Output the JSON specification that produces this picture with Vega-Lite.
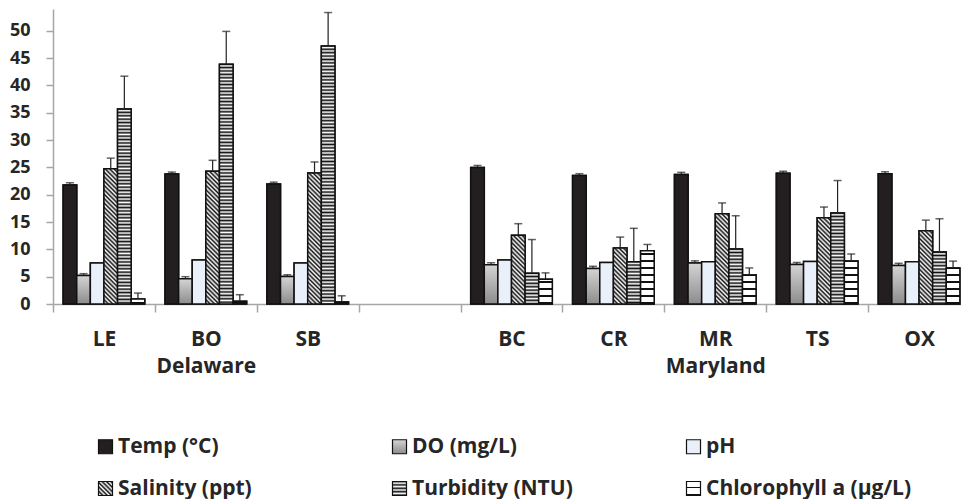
{
  "$schema": "https://vega.github.io/schema/vega-lite/v6.json",
  "autosize": {"type": "none"},
  "padding": {"left": 53, "top": 9, "right": 0, "bottom": 195},
  "width": 908,
  "height": 295,
  "background": "white",
  "config": {"font": "Open Sans", "view": {"stroke": null}},
  "params": [
    {"name": "stripeStops", "value": [
      {"offset":0,"color":"#111"},{"offset":0.005,"color":"#fff"},{"offset":0.01,"color":"#111"},{"offset":0.015,"color":"#fff"},{"offset":0.02,"color":"#111"},{"offset":0.025,"color":"#fff"},{"offset":0.03,"color":"#111"},{"offset":0.035,"color":"#fff"},{"offset":0.04,"color":"#111"},{"offset":0.045,"color":"#fff"},
      {"offset":0.05,"color":"#111"},{"offset":0.055,"color":"#fff"},{"offset":0.06,"color":"#111"},{"offset":0.065,"color":"#fff"},{"offset":0.07,"color":"#111"},{"offset":0.075,"color":"#fff"},{"offset":0.08,"color":"#111"},{"offset":0.085,"color":"#fff"},{"offset":0.09,"color":"#111"},{"offset":0.095,"color":"#fff"},
      {"offset":0.1,"color":"#111"},{"offset":0.105,"color":"#fff"},{"offset":0.11,"color":"#111"},{"offset":0.115,"color":"#fff"},{"offset":0.12,"color":"#111"},{"offset":0.125,"color":"#fff"},{"offset":0.13,"color":"#111"},{"offset":0.135,"color":"#fff"},{"offset":0.14,"color":"#111"},{"offset":0.145,"color":"#fff"},
      {"offset":0.15,"color":"#111"},{"offset":0.155,"color":"#fff"},{"offset":0.16,"color":"#111"},{"offset":0.165,"color":"#fff"},{"offset":0.17,"color":"#111"},{"offset":0.175,"color":"#fff"},{"offset":0.18,"color":"#111"},{"offset":0.185,"color":"#fff"},{"offset":0.19,"color":"#111"},{"offset":0.195,"color":"#fff"},
      {"offset":0.2,"color":"#111"},{"offset":0.205,"color":"#fff"},{"offset":0.21,"color":"#111"},{"offset":0.215,"color":"#fff"},{"offset":0.22,"color":"#111"},{"offset":0.225,"color":"#fff"},{"offset":0.23,"color":"#111"},{"offset":0.235,"color":"#fff"},{"offset":0.24,"color":"#111"},{"offset":0.245,"color":"#fff"},
      {"offset":0.25,"color":"#111"},{"offset":0.255,"color":"#fff"},{"offset":0.26,"color":"#111"},{"offset":0.265,"color":"#fff"},{"offset":0.27,"color":"#111"},{"offset":0.275,"color":"#fff"},{"offset":0.28,"color":"#111"},{"offset":0.285,"color":"#fff"},{"offset":0.29,"color":"#111"},{"offset":0.295,"color":"#fff"},
      {"offset":0.3,"color":"#111"},{"offset":0.305,"color":"#fff"},{"offset":0.31,"color":"#111"},{"offset":0.315,"color":"#fff"},{"offset":0.32,"color":"#111"},{"offset":0.325,"color":"#fff"},{"offset":0.33,"color":"#111"},{"offset":0.335,"color":"#fff"},{"offset":0.34,"color":"#111"},{"offset":0.345,"color":"#fff"},
      {"offset":0.35,"color":"#111"},{"offset":0.355,"color":"#fff"},{"offset":0.36,"color":"#111"},{"offset":0.365,"color":"#fff"},{"offset":0.37,"color":"#111"},{"offset":0.375,"color":"#fff"},{"offset":0.38,"color":"#111"},{"offset":0.385,"color":"#fff"},{"offset":0.39,"color":"#111"},{"offset":0.395,"color":"#fff"},
      {"offset":0.4,"color":"#111"},{"offset":0.405,"color":"#fff"},{"offset":0.41,"color":"#111"},{"offset":0.415,"color":"#fff"},{"offset":0.42,"color":"#111"},{"offset":0.425,"color":"#fff"},{"offset":0.43,"color":"#111"},{"offset":0.435,"color":"#fff"},{"offset":0.44,"color":"#111"},{"offset":0.445,"color":"#fff"},
      {"offset":0.45,"color":"#111"},{"offset":0.455,"color":"#fff"},{"offset":0.46,"color":"#111"},{"offset":0.465,"color":"#fff"},{"offset":0.47,"color":"#111"},{"offset":0.475,"color":"#fff"},{"offset":0.48,"color":"#111"},{"offset":0.485,"color":"#fff"},{"offset":0.49,"color":"#111"},{"offset":0.495,"color":"#fff"},
      {"offset":0.5,"color":"#111"},{"offset":0.505,"color":"#fff"},{"offset":0.51,"color":"#111"},{"offset":0.515,"color":"#fff"},{"offset":0.52,"color":"#111"},{"offset":0.525,"color":"#fff"},{"offset":0.53,"color":"#111"},{"offset":0.535,"color":"#fff"},{"offset":0.54,"color":"#111"},{"offset":0.545,"color":"#fff"},
      {"offset":0.55,"color":"#111"},{"offset":0.555,"color":"#fff"},{"offset":0.56,"color":"#111"},{"offset":0.565,"color":"#fff"},{"offset":0.57,"color":"#111"},{"offset":0.575,"color":"#fff"},{"offset":0.58,"color":"#111"},{"offset":0.585,"color":"#fff"},{"offset":0.59,"color":"#111"},{"offset":0.595,"color":"#fff"},
      {"offset":0.6,"color":"#111"},{"offset":0.605,"color":"#fff"},{"offset":0.61,"color":"#111"},{"offset":0.615,"color":"#fff"},{"offset":0.62,"color":"#111"},{"offset":0.625,"color":"#fff"},{"offset":0.63,"color":"#111"},{"offset":0.635,"color":"#fff"},{"offset":0.64,"color":"#111"},{"offset":0.645,"color":"#fff"},
      {"offset":0.65,"color":"#111"},{"offset":0.655,"color":"#fff"},{"offset":0.66,"color":"#111"},{"offset":0.665,"color":"#fff"},{"offset":0.67,"color":"#111"},{"offset":0.675,"color":"#fff"},{"offset":0.68,"color":"#111"},{"offset":0.685,"color":"#fff"},{"offset":0.69,"color":"#111"},{"offset":0.695,"color":"#fff"},
      {"offset":0.7,"color":"#111"},{"offset":0.705,"color":"#fff"},{"offset":0.71,"color":"#111"},{"offset":0.715,"color":"#fff"},{"offset":0.72,"color":"#111"},{"offset":0.725,"color":"#fff"},{"offset":0.73,"color":"#111"},{"offset":0.735,"color":"#fff"},{"offset":0.74,"color":"#111"},{"offset":0.745,"color":"#fff"},
      {"offset":0.75,"color":"#111"},{"offset":0.755,"color":"#fff"},{"offset":0.76,"color":"#111"},{"offset":0.765,"color":"#fff"},{"offset":0.77,"color":"#111"},{"offset":0.775,"color":"#fff"},{"offset":0.78,"color":"#111"},{"offset":0.785,"color":"#fff"},{"offset":0.79,"color":"#111"},{"offset":0.795,"color":"#fff"},
      {"offset":0.8,"color":"#111"},{"offset":0.805,"color":"#fff"},{"offset":0.81,"color":"#111"},{"offset":0.815,"color":"#fff"},{"offset":0.82,"color":"#111"},{"offset":0.825,"color":"#fff"},{"offset":0.83,"color":"#111"},{"offset":0.835,"color":"#fff"},{"offset":0.84,"color":"#111"},{"offset":0.845,"color":"#fff"},
      {"offset":0.85,"color":"#111"},{"offset":0.855,"color":"#fff"},{"offset":0.86,"color":"#111"},{"offset":0.865,"color":"#fff"},{"offset":0.87,"color":"#111"},{"offset":0.875,"color":"#fff"},{"offset":0.88,"color":"#111"},{"offset":0.885,"color":"#fff"},{"offset":0.89,"color":"#111"},{"offset":0.895,"color":"#fff"},
      {"offset":0.9,"color":"#111"},{"offset":0.905,"color":"#fff"},{"offset":0.91,"color":"#111"},{"offset":0.915,"color":"#fff"},{"offset":0.92,"color":"#111"},{"offset":0.925,"color":"#fff"},{"offset":0.93,"color":"#111"},{"offset":0.935,"color":"#fff"},{"offset":0.94,"color":"#111"},{"offset":0.945,"color":"#fff"},
      {"offset":0.95,"color":"#111"},{"offset":0.955,"color":"#fff"},{"offset":0.96,"color":"#111"},{"offset":0.965,"color":"#fff"},{"offset":0.97,"color":"#111"},{"offset":0.975,"color":"#fff"},{"offset":0.98,"color":"#111"},{"offset":0.985,"color":"#fff"},{"offset":0.99,"color":"#111"},{"offset":0.995,"color":"#fff"},
      {"offset":1,"color":"#111"}
    ]},
    {"name": "chlStops", "value": [
      {"offset":0,"color":"#111"},{"offset":0.025,"color":"#111"},{"offset":0.025,"color":"#fff"},{"offset":0.1,"color":"#fff"},
      {"offset":0.1,"color":"#111"},{"offset":0.125,"color":"#111"},{"offset":0.125,"color":"#fff"},{"offset":0.2,"color":"#fff"},
      {"offset":0.2,"color":"#111"},{"offset":0.225,"color":"#111"},{"offset":0.225,"color":"#fff"},{"offset":0.3,"color":"#fff"},
      {"offset":0.3,"color":"#111"},{"offset":0.325,"color":"#111"},{"offset":0.325,"color":"#fff"},{"offset":0.4,"color":"#fff"},
      {"offset":0.4,"color":"#111"},{"offset":0.425,"color":"#111"},{"offset":0.425,"color":"#fff"},{"offset":0.5,"color":"#fff"},
      {"offset":0.5,"color":"#111"},{"offset":0.525,"color":"#111"},{"offset":0.525,"color":"#fff"},{"offset":0.6,"color":"#fff"},
      {"offset":0.6,"color":"#111"},{"offset":0.625,"color":"#111"},{"offset":0.625,"color":"#fff"},{"offset":0.7,"color":"#fff"},
      {"offset":0.7,"color":"#111"},{"offset":0.725,"color":"#111"},{"offset":0.725,"color":"#fff"},{"offset":0.8,"color":"#fff"},
      {"offset":0.8,"color":"#111"},{"offset":0.825,"color":"#111"},{"offset":0.825,"color":"#fff"},{"offset":0.9,"color":"#fff"},
      {"offset":0.9,"color":"#111"},{"offset":0.925,"color":"#111"},{"offset":0.925,"color":"#fff"},{"offset":1,"color":"#fff"}
    ]}
  ],
  "data": {"values": [
    {"site":"LE","param":"Temp (°C)","value":21.8,"hi":22.2},
    {"site":"LE","param":"DO (mg/L)","value":5.2,"hi":5.55},
    {"site":"LE","param":"pH","value":7.5,"hi":null},
    {"site":"LE","param":"Salinity (ppt)","value":24.75,"hi":26.7},
    {"site":"LE","param":"Turbidity (NTU)","value":35.7,"hi":41.7},
    {"site":"LE","param":"Chlorophyll a (µg/L)","value":0.9,"hi":2.0},
    {"site":"BO","param":"Temp (°C)","value":23.8,"hi":24.15},
    {"site":"BO","param":"DO (mg/L)","value":4.6,"hi":5.0},
    {"site":"BO","param":"pH","value":8.05,"hi":null},
    {"site":"BO","param":"Salinity (ppt)","value":24.3,"hi":26.3},
    {"site":"BO","param":"Turbidity (NTU)","value":43.9,"hi":49.9},
    {"site":"BO","param":"Chlorophyll a (µg/L)","value":0.5,"hi":1.7},
    {"site":"SB","param":"Temp (°C)","value":21.95,"hi":22.3},
    {"site":"SB","param":"DO (mg/L)","value":5.05,"hi":5.35},
    {"site":"SB","param":"pH","value":7.5,"hi":null},
    {"site":"SB","param":"Salinity (ppt)","value":24.0,"hi":26.0},
    {"site":"SB","param":"Turbidity (NTU)","value":47.25,"hi":53.35},
    {"site":"SB","param":"Chlorophyll a (µg/L)","value":0.35,"hi":1.5},
    {"site":"BC","param":"Temp (°C)","value":25.0,"hi":25.36},
    {"site":"BC","param":"DO (mg/L)","value":7.2,"hi":7.55},
    {"site":"BC","param":"pH","value":8.05,"hi":null},
    {"site":"BC","param":"Salinity (ppt)","value":12.6,"hi":14.7},
    {"site":"BC","param":"Turbidity (NTU)","value":5.65,"hi":11.8},
    {"site":"BC","param":"Chlorophyll a (µg/L)","value":4.55,"hi":5.7},
    {"site":"CR","param":"Temp (°C)","value":23.5,"hi":23.85},
    {"site":"CR","param":"DO (mg/L)","value":6.5,"hi":6.9},
    {"site":"CR","param":"pH","value":7.6,"hi":null},
    {"site":"CR","param":"Salinity (ppt)","value":10.25,"hi":12.25},
    {"site":"CR","param":"Turbidity (NTU)","value":7.75,"hi":13.85},
    {"site":"CR","param":"Chlorophyll a (µg/L)","value":9.75,"hi":10.9},
    {"site":"MR","param":"Temp (°C)","value":23.7,"hi":24.1},
    {"site":"MR","param":"DO (mg/L)","value":7.5,"hi":7.9},
    {"site":"MR","param":"pH","value":7.75,"hi":null},
    {"site":"MR","param":"Salinity (ppt)","value":16.5,"hi":18.5},
    {"site":"MR","param":"Turbidity (NTU)","value":10.05,"hi":16.15},
    {"site":"MR","param":"Chlorophyll a (µg/L)","value":5.3,"hi":6.6},
    {"site":"TS","param":"Temp (°C)","value":23.95,"hi":24.3},
    {"site":"TS","param":"DO (mg/L)","value":7.25,"hi":7.6},
    {"site":"TS","param":"pH","value":7.8,"hi":null},
    {"site":"TS","param":"Salinity (ppt)","value":15.8,"hi":17.75},
    {"site":"TS","param":"Turbidity (NTU)","value":16.65,"hi":22.6},
    {"site":"TS","param":"Chlorophyll a (µg/L)","value":7.85,"hi":9.15},
    {"site":"OX","param":"Temp (°C)","value":23.85,"hi":24.2},
    {"site":"OX","param":"DO (mg/L)","value":7.05,"hi":7.45},
    {"site":"OX","param":"pH","value":7.75,"hi":null},
    {"site":"OX","param":"Salinity (ppt)","value":13.4,"hi":15.35},
    {"site":"OX","param":"Turbidity (NTU)","value":9.5,"hi":15.6},
    {"site":"OX","param":"Chlorophyll a (µg/L)","value":6.6,"hi":7.85}
  ]},
  "encoding": {
    "x": {
      "field": "site", "type": "nominal",
      "scale": {"domain": ["LE","BO","SB","gap","BC","CR","MR","TS","OX"], "range": [0, 917], "paddingInner": 0, "paddingOuter": 0},
      "axis": {
        "title": null,
        "labelExpr": "datum.value === 'BO' ? ['BO', 'Delaware'] : datum.value === 'MR' ? ['MR', 'Maryland'] : datum.value === 'gap' ? '' : datum.value",
        "labelFont": "Open Sans", "labelFontWeight": "bold", "labelFontSize": 21, "labelColor": "#262626",
        "labelAngle": 0, "labelPadding": 16, "labelLineHeight": 27, "labelOverlap": false,
        "tickBand": "extent", "tickSize": 8, "tickColor": "#a6a6a6", "tickWidth": 1.5,
        "domainColor": "#a6a6a6", "domainWidth": 1.5, "grid": false
      }
    },
    "xOffset": {
      "field": "param", "type": "nominal",
      "scale": {"domain": ["Temp (°C)","DO (mg/L)","pH","Salinity (ppt)","Turbidity (NTU)","Chlorophyll a (µg/L)"], "paddingInner": 0, "paddingOuter": 0.745}
    }
  },
  "layer": [
    {
      "mark": {"type": "bar", "stroke": "#111", "strokeWidth": 1.5},
      "encoding": {
        "y": {"field": "value", "type": "quantitative", "scale": {"domain": [0, 54], "nice": false, "zero": true},
          "axis": {"title": null, "values": [0,5,10,15,20,25,30,35,40,45,50], "labelOverlap": false, "labelFont": "Open Sans", "labelFontWeight": "bold", "labelFontSize": 18, "labelColor": "#262626", "labelPadding": 16, "tickSize": 7, "tickColor": "#a6a6a6", "tickWidth": 1.5, "domainColor": "#a6a6a6", "domainWidth": 1.5, "grid": false}},
        "fill": {
          "field": "param", "type": "nominal",
          "scale": {
            "domain": ["Temp (°C)","DO (mg/L)","pH","Salinity (ppt)","Turbidity (NTU)","Chlorophyll a (µg/L)"],
            "range": [
              {"expr": "'#231f20'"},
              {"expr": "{gradient: 'linear', x1: 0, y1: 0, x2: 0, y2: 1, stops: [{offset: 0, color: '#d4d4d4'}, {offset: 1, color: '#8c8c8c'}]}"},
              {"expr": "'#eaf0fa'"},
              {"expr": "{gradient: 'linear', x1: 0, y1: 1, x2: 15.7, y2: -14.7, stops: stripeStops}"},
              {"expr": "{gradient: 'linear', x1: 0, y1: 0, x2: 0, y2: 24.3, stops: stripeStops}"},
              {"expr": "{gradient: 'linear', x1: 0, y1: 1, x2: 0, y2: -4, stops: chlStops}"}
            ]
          },
          "legend": {
            "title": null, "orient": "none", "legendX": 42, "legendY": 427, "columns": 3, "direction": "horizontal",
            "gridAlign": "all", "columnPadding": 65, "rowPadding": 20, "padding": 0,
            "symbolType": "square", "symbolSize": 196, "symbolStrokeColor": "#111", "symbolStrokeWidth": 1.2,
            "labelFont": "Open Sans", "labelFontWeight": "bold", "labelFontSize": 21, "labelColor": "#262626", "labelOffset": 2, "labelLimit": 400
          }
        }
      }
    },
    {
      "mark": {"type": "bar", "stroke": "#111", "strokeWidth": 1.5},
      "encoding": {
        "y": {"field": "value", "type": "quantitative",
          "axis": {"title": null, "values": [0,5,10,15,20,25,30,35,40,45,50], "labelOverlap": false, "labelFont": "Open Sans", "labelFontWeight": "bold", "labelFontSize": 18, "labelColor": "#262626", "labelPadding": 16, "tickSize": 7, "tickColor": "#a6a6a6", "tickWidth": 1.5, "domainColor": "#a6a6a6", "domainWidth": 1.5, "grid": false}},
        "fill": {"value": {"expr": "datum.param === 'Temp (°C)' ? '#231f20' : datum.param === 'DO (mg/L)' ? {gradient: 'linear', x1: 0, y1: 0, x2: 0, y2: 1, stops: [{offset: 0, color: '#d4d4d4'}, {offset: 1, color: '#8c8c8c'}]} : datum.param === 'pH' ? '#eaf0fa' : datum.param === 'Salinity (ppt)' ? {gradient: 'linear', x1: 0, y1: 1, x2: 440 * 13.6 / (184.96 + pow(datum.value * 5.463, 2)), y2: 1 - 440 * datum.value * 5.463 / (184.96 + pow(datum.value * 5.463, 2)), stops: stripeStops} : datum.param === 'Turbidity (NTU)' ? {gradient: 'linear', x1: 0, y1: 0, x2: 0, y2: 340 / (datum.value * 5.463), stops: stripeStops} : {gradient: 'linear', x1: 0, y1: 1, x2: 0, y2: 1 - 70 / (datum.value * 5.463), stops: chlStops}"}}
      }
    },
    {
      "transform": [{"filter": "isValid(datum.hi)"}],
      "mark": {"type": "rule", "color": "#222", "strokeWidth": 1.2},
      "encoding": {
        "y": {"field": "value", "type": "quantitative",
          "axis": {"title": null, "values": [0,5,10,15,20,25,30,35,40,45,50], "labelOverlap": false, "labelFont": "Open Sans", "labelFontWeight": "bold", "labelFontSize": 18, "labelColor": "#262626", "labelPadding": 16, "tickSize": 7, "tickColor": "#a6a6a6", "tickWidth": 1.5, "domainColor": "#a6a6a6", "domainWidth": 1.5, "grid": false}},
        "y2": {"field": "hi"}
      }
    },
    {
      "transform": [{"filter": "isValid(datum.hi)"}],
      "mark": {"type": "tick", "color": "#222", "size": 8, "thickness": 1.5},
      "encoding": {
        "y": {"field": "hi", "type": "quantitative",
          "axis": {"title": null, "values": [0,5,10,15,20,25,30,35,40,45,50], "labelOverlap": false, "labelFont": "Open Sans", "labelFontWeight": "bold", "labelFontSize": 18, "labelColor": "#262626", "labelPadding": 16, "tickSize": 7, "tickColor": "#a6a6a6", "tickWidth": 1.5, "domainColor": "#a6a6a6", "domainWidth": 1.5, "grid": false}}
      }
    }
  ]
}
